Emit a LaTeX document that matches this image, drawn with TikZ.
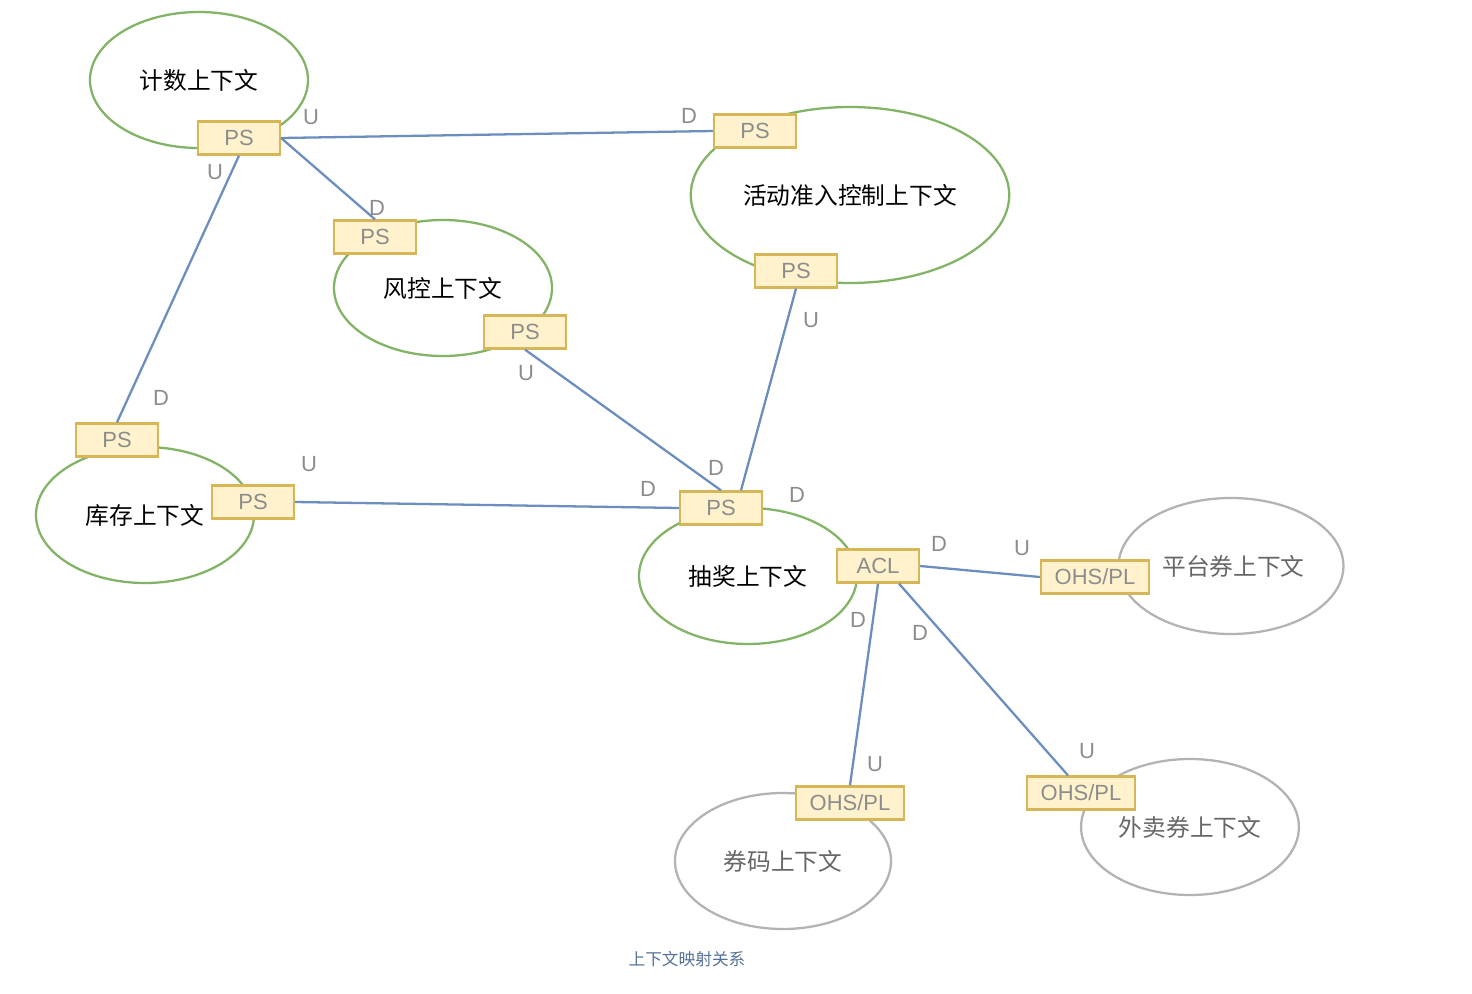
\documentclass[tikz,border=0pt]{standalone}
\usepackage{fontspec}
\setmainfont{Liberation Sans}
\newfontfamily\cjk{Noto Sans CJK SC}
\usetikzlibrary{shapes.geometric}
\definecolor{gr}{HTML}{82B366}
\definecolor{gy}{HTML}{B3B3B3}
\definecolor{bl}{HTML}{6C8EBF}
\definecolor{bf}{HTML}{FFF2CC}
\definecolor{bd}{HTML}{D6B656}
\definecolor{tx}{HTML}{8C8C8C}
\begin{document}
\begin{tikzpicture}[x=0.02cm,y=-0.02cm,
 ctx/.style={ellipse,draw=gr,line width=1.3pt,minimum width=#1*0.02cm,minimum height=136*0.02cm,font=\cjk\fontsize{13.5}{15}\selectfont},
 gctx/.style={ctx=#1,draw=gy,text=black!60},
 pbox/.style={draw=bd,fill=bf,line width=1.3pt,minimum width=#1*0.02cm,minimum height=33*0.02cm,inner sep=0pt,text=tx,font=\fontsize{12.5}{14}\selectfont},
 pbox/.default=82,
 lnk/.style={draw=bl,line width=1.3pt},
 lb/.style={text=tx,font=\fontsize{12.5}{14}\selectfont,inner sep=0pt}]
\useasboundingbox (0,0) rectangle (1472,994);
\node[ctx=218] (e1) at (199,80) {计数上下文};
\node[ctx=244,minimum height=176*0.02cm] (e2) at (850,195) {活动准入控制上下文};
\node[ctx=218] (e3) at (443,288) {风控上下文};
\node[ctx=218] (e4) at (145,515) {库存上下文};
\node[ctx=218] (e5) at (748,576) {抽奖上下文};
\node[gctx=216] (e6) at (1231,566) {\hspace*{0.1cm}\raisebox{0pt}{平台券上下文}};
\node[gctx=216] (e7) at (1190,827) {外卖券上下文};
\node[gctx=216] (e8) at (783,861) {券码上下文};
\node[pbox] (p1) at (239,138) {PS};
\node[pbox] (p2) at (755,131) {PS};
\node[pbox] (p3) at (796,271) {PS};
\node[pbox] (p4) at (375,237) {PS};
\node[pbox] (p5) at (525,332) {PS};
\node[pbox] (p6) at (117,440) {PS};
\node[pbox] (p7) at (253,502) {PS};
\node[pbox] (p8) at (721,508) {PS};
\node[pbox] (acl) at (878,566) {ACL};
\node[pbox=108] (o1) at (1095,577) {OHS/PL};
\node[pbox=108] (o2) at (1081,793) {OHS/PL};
\node[pbox=108] (o3) at (850,803) {OHS/PL};
\begin{scope}[on background layer/.style={}]
\end{scope}
\path[lnk] (p1.east) -- (p2.west);
\path[lnk] (p1.east) -- (p4.north);
\path[lnk] (p1.south) -- (p6.north);
\path[lnk] (p5.south) -- (p8.north);
\path[lnk] (p3.south) -- ([xshift=0.4cm]p8.north);
\path[lnk] (p7.east) -- (p8.west);
\path[lnk] (acl.east) -- (o1.west);
\path[lnk] (acl.south) -- (o3.north);
\path[lnk] ([xshift=0.42cm]acl.south) -- ([xshift=-0.26cm]o2.north);
\foreach \n in {p1,p2,p3,p4,p5,p6,p7,p8,acl,o1,o2,o3}{}
\node[lb] at (311,117) {U};
\node[lb] at (689,116) {D};
\node[lb] at (215,172) {U};
\node[lb] at (377,208) {D};
\node[lb] at (526,373) {U};
\node[lb] at (161,398) {D};
\node[lb] at (811,320) {U};
\node[lb] at (309,464) {U};
\node[lb] at (716,468) {D};
\node[lb] at (648,489) {D};
\node[lb] at (797,495) {D};
\node[lb] at (939,544) {D};
\node[lb] at (1022,548) {U};
\node[lb] at (858,620) {D};
\node[lb] at (920,633) {D};
\node[lb] at (875,764) {U};
\node[lb] at (1087,751) {U};
\node[text=bl!80!black,font=\cjk\fontsize{9.5}{11}\selectfont] (cap) at (687,959) {上下文映射关系};
\end{tikzpicture}
\end{document}
